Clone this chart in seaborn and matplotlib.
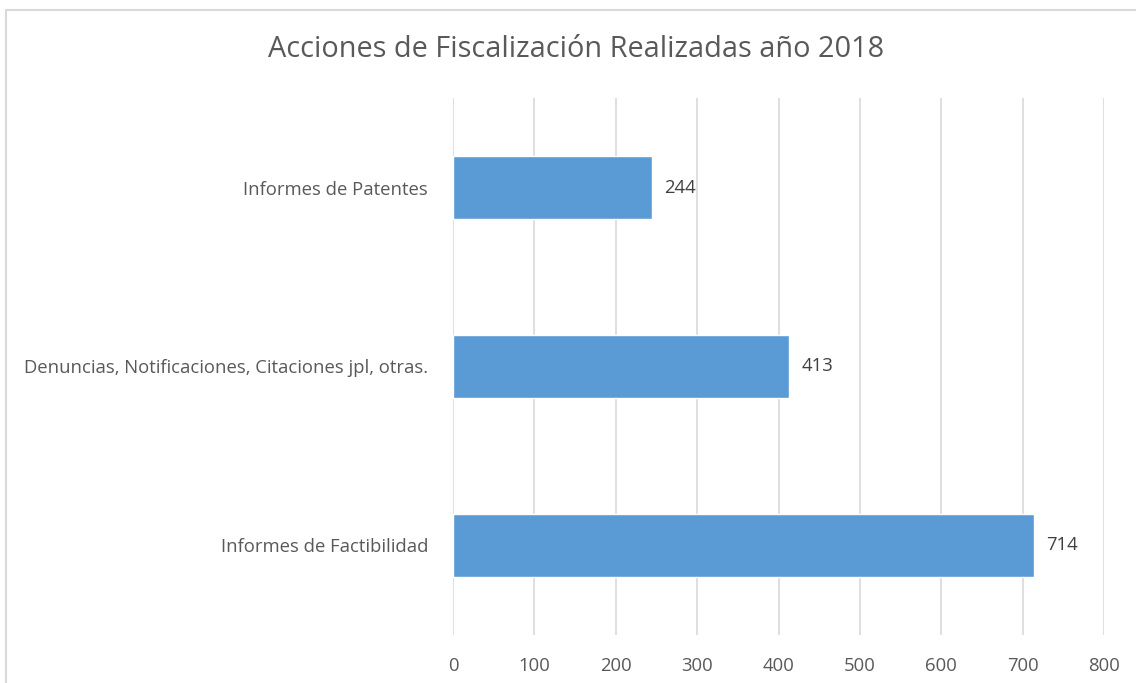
import matplotlib
matplotlib.use("Agg")
import matplotlib.pyplot as plt
import seaborn as sns
import pandas as pd
from matplotlib.patches import Rectangle

categories = ["Informes de Patentes",
              "Denuncias, Notificaciones, Citaciones jpl, otras.",
              "Informes de Factibilidad"]
values = [244, 413, 714]
xticks = [0, 100, 200, 300, 400, 500, 600, 700, 800]
title = "Acciones de Fiscalización Realizadas año 2018"

sns.set_theme(style="white")
plt.rcParams["font.family"] = ["Open Sans", "DejaVu Sans"]

df = pd.DataFrame({"cat": categories, "val": values})

fig = plt.figure(figsize=(11.36, 6.83), dpi=100)
ax = fig.add_axes([0.3988, 0.0703, 0.9718 - 0.3988, 0.8565 - 0.0703])

sns.barplot(data=df, y="cat", x="val", orient="h", color="#5B9BD5",
            saturation=1, width=0.353, ax=ax, zorder=3)

ax.set_xlim(0, 800)
ax.set_ylim(2.5, -0.5)
ax.set_xticks(xticks)
ax.set_xticklabels([str(t) for t in xticks])
ax.grid(axis="x", color="#D9D9D9", linewidth=1.2, zorder=0)
ax.grid(axis="y", visible=False)
for s in ax.spines.values():
    s.set_visible(False)
ax.tick_params(axis="both", length=0, colors="#595959", labelsize=13.3)
ax.tick_params(axis="x", pad=16)
ax.tick_params(axis="y", pad=18)
ax.set_xlabel("")
ax.set_ylabel("")

for i, v in enumerate(values):
    ax.text(v + 15, i, str(v), va="center", ha="left", color="#404040", fontsize=13.3)

fig.text(0.507, 0.928, title, ha="center", va="center", fontsize=20.8, color="#595959")

fig.patches.append(Rectangle((6 / 1136, -0.1), 1.2, 1 - 10 / 683 + 0.1,
                             transform=fig.transFigure, fill=False,
                             edgecolor="#D9D9D9", linewidth=1.5, zorder=0))

fig.savefig("out.png", dpi=100)
